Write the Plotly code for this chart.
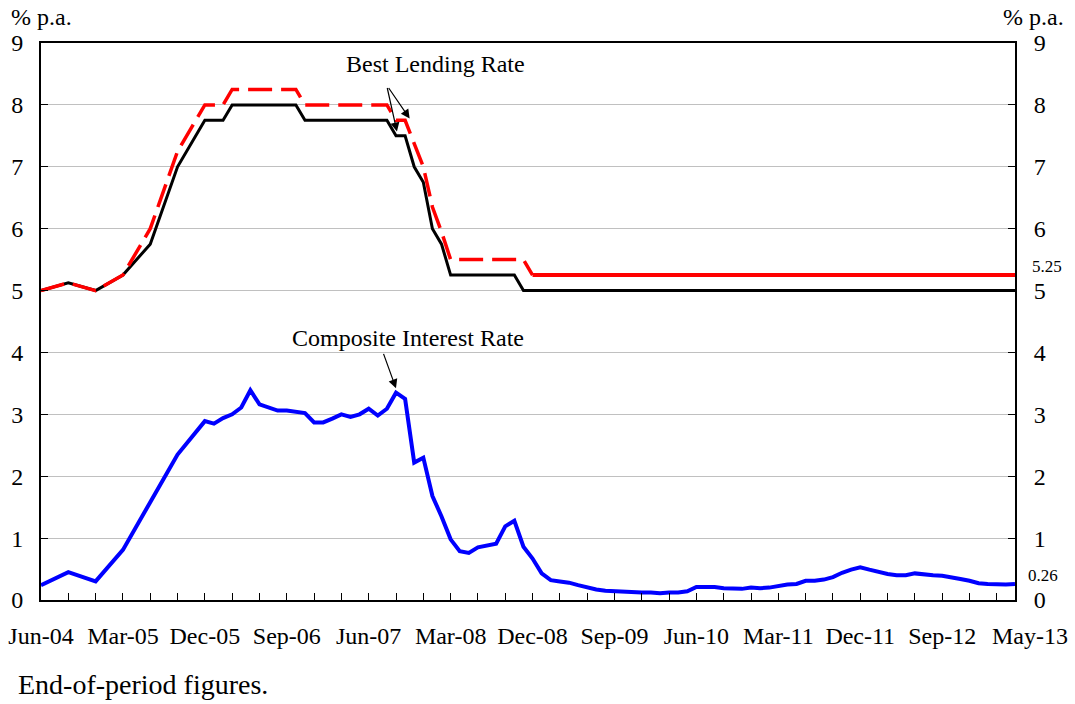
import plotly.graph_objects as go

# ---------------- data ----------------
# early observations are quarterly, monthly from Jan-2006
quarterly_periods = ["2004-06", "2004-09", "2004-12", "2005-03", "2005-06", "2005-09", "2005-12"]
monthly_periods = [f"{y}-{m:02d}" for y in range(2006, 2014) for m in range(1, 13)
                   if not (y == 2013 and m > 5)]
periods = quarterly_periods + monthly_periods

# Best Lending Rate (lower, black)
blr_low_q = [5.0, 5.125, 5.0, 5.25, 5.75, 7.0, 7.75]
blr_low_2006 = [7.75, 7.75, 8.0, 8.0, 8.0, 8.0, 8.0, 8.0, 8.0, 8.0, 7.75, 7.75]
blr_low_2007 = [7.75, 7.75, 7.75, 7.75, 7.75, 7.75, 7.75, 7.75, 7.5, 7.5, 7.0, 6.75]
blr_low_2008 = [6.0, 5.75, 5.25, 5.25, 5.25, 5.25, 5.25, 5.25, 5.25, 5.25, 5.0, 5.0]
blr_low_2009 = [5.0] * 12
blr_low_2010 = [5.0] * 12
blr_low_2011 = [5.0] * 12
blr_low_2012 = [5.0] * 12
blr_low_2013 = [5.0] * 5

# Best Lending Rate (higher, red)
blr_high_q = [5.0, 5.125, 5.0, 5.25, 6.0, 7.25, 8.0]
blr_high_2006 = [8.0, 8.0, 8.25, 8.25, 8.25, 8.25, 8.25, 8.25, 8.25, 8.25, 8.0, 8.0]
blr_high_2007 = [8.0, 8.0, 8.0, 8.0, 8.0, 8.0, 8.0, 8.0, 7.75, 7.75, 7.375, 7.0]
blr_high_2008 = [6.35, 5.95, 5.5, 5.5, 5.5, 5.5, 5.5, 5.5, 5.5, 5.5, 5.5, 5.25]
blr_high_2009 = [5.25] * 12
blr_high_2010 = [5.25] * 12
blr_high_2011 = [5.25] * 12
blr_high_2012 = [5.25] * 12
blr_high_2013 = [5.25] * 5

# Composite Interest Rate (blue)
cir_q = [0.24, 0.45, 0.30, 0.81, 1.58, 2.35, 2.89]
cir_2006 = [2.85, 2.94, 3.00, 3.11, 3.39, 3.16, 3.11, 3.06, 3.06, 3.04, 3.02, 2.87]
cir_2007 = [2.87, 2.93, 3.00, 2.96, 3.00, 3.09, 2.98, 3.09, 3.35, 3.25, 2.22, 2.30]
cir_2008 = [1.68, 1.35, 0.98, 0.79, 0.76, 0.85, 0.88, 0.91, 1.19, 1.28, 0.86, 0.67]
cir_2009 = [0.43, 0.32, 0.30, 0.28, 0.24, 0.20, 0.17, 0.15, 0.14, 0.13, 0.12, 0.12]
cir_2010 = [0.12, 0.11, 0.12, 0.12, 0.14, 0.21, 0.21, 0.21, 0.19, 0.18, 0.18, 0.20]
cir_2011 = [0.19, 0.20, 0.23, 0.25, 0.26, 0.31, 0.31, 0.33, 0.37, 0.44, 0.49, 0.53]
cir_2012 = [0.49, 0.45, 0.42, 0.40, 0.40, 0.43, 0.41, 0.40, 0.39, 0.37, 0.34, 0.31]
cir_2013 = [0.27, 0.26, 0.25, 0.25, 0.26]

blr_low = (blr_low_q + blr_low_2006 + blr_low_2007 + blr_low_2008 + blr_low_2009
           + blr_low_2010 + blr_low_2011 + blr_low_2012 + blr_low_2013)
blr_high = (blr_high_q + blr_high_2006 + blr_high_2007 + blr_high_2008 + blr_high_2009
            + blr_high_2010 + blr_high_2011 + blr_high_2012 + blr_high_2013)
cir = (cir_q + cir_2006 + cir_2007 + cir_2008 + cir_2009 + cir_2010 + cir_2011
       + cir_2012 + cir_2013)

MONTHS = ["Jan", "Feb", "Mar", "Apr", "May", "Jun", "Jul", "Aug", "Sep", "Oct", "Nov", "Dec"]


def month_index(p):
    y, m = int(p[:4]), int(p[5:7])
    return (y - 2004) * 12 + (m - 6)


def month_label(i):
    t = i + 5  # months since Jan-2004
    return f"{MONTHS[t % 12]}-{(2004 + t // 12) % 100:02d}"


x = [month_index(p) for p in periods]
last_x = x[-1]

split = periods.index("2008-12")

FONT = "Liberation Serif"

fig = go.Figure()

fig.add_trace(go.Scatter(x=x, y=blr_low, mode="lines",
                         line=dict(color="#000000", width=3),
                         showlegend=False, hoverinfo="skip"))
fig.add_trace(go.Scatter(x=x[:split + 1], y=blr_high[:split + 1], mode="lines",
                         line=dict(color="#FF0000", width=3.5, dash="24px,9px"),
                         showlegend=False, hoverinfo="skip"))
fig.add_trace(go.Scatter(x=x[split:], y=blr_high[split:], mode="lines",
                         line=dict(color="#FF0000", width=4),
                         showlegend=False, hoverinfo="skip"))
fig.add_trace(go.Scatter(x=x, y=cir, mode="lines", yaxis="y2",
                         line=dict(color="#0000FF", width=4),
                         showlegend=False, hoverinfo="skip"))

tickvals = list(range(0, last_x, 3))
ticktext = [month_label(v) if v % 9 == 0 else "" for v in tickvals]

axis_font = dict(family=FONT, size=24, color="#000000")

fig.update_layout(
    width=1075, height=704,
    margin=dict(l=41, r=60, t=43, b=104),
    paper_bgcolor="#FFFFFF", plot_bgcolor="#FFFFFF",
    font=dict(family=FONT, color="#000000"),
    xaxis=dict(range=[0, last_x], tickmode="array", tickvals=tickvals, ticktext=ticktext,
               ticks="inside", ticklen=7, tickwidth=1, tickcolor="#000000",
               showline=True, linecolor="#000000", linewidth=2, mirror=True,
               showgrid=False, zeroline=False, tickfont=axis_font,
               ticklabelstandoff=13, automargin=False),
    yaxis=dict(range=[0, 9], tickmode="array", tickvals=list(range(0, 10)),
               ticks="inside", ticklen=7, tickwidth=1, tickcolor="#000000",
               showline=True, linecolor="#000000", linewidth=2,
               showgrid=True, gridcolor="#C0C0C0", gridwidth=1, zeroline=False,
               tickfont=axis_font, ticklabelstandoff=11, automargin=False),
    yaxis2=dict(range=[0, 9], matches="y", overlaying="y", side="right",
                tickmode="array", tickvals=list(range(0, 10)),
                ticks="inside", ticklen=7, tickwidth=1, tickcolor="#000000",
                showline=True, linecolor="#000000", linewidth=2,
                showgrid=False, zeroline=False, tickfont=axis_font,
                ticklabelstandoff=12, automargin=False),
)

ann_font = dict(family=FONT, size=24, color="#000000")
small_font = dict(family=FONT, size=17, color="#000000")

annotations = [
    dict(text="% p.a.", xref="paper", yref="paper", x=0.0, y=1.047,
         xanchor="center", yanchor="middle", showarrow=False, font=ann_font),
    dict(text="% p.a.", xref="paper", yref="paper", x=1.019, y=1.047,
         xanchor="center", yanchor="middle", showarrow=False, font=ann_font),
    dict(text="Best Lending Rate", xref="x", yref="y", x=43.3, y=8.66,
         xanchor="center", yanchor="middle", showarrow=False, font=ann_font),
    dict(text="Composite Interest Rate", xref="x", yref="y", x=40.3, y=4.24,
         xanchor="center", yanchor="middle", showarrow=False, font=ann_font),
    # arrows
    dict(text="", xref="x", yref="y", x=39.1, y=7.57, ax=-10, ay=-45,
         showarrow=True, arrowhead=2, arrowsize=1.5, arrowwidth=1.2, arrowcolor="#000000"),
    dict(text="", xref="x", yref="y", x=40.5, y=7.78, ax=-22, ay=-32,
         showarrow=True, arrowhead=2, arrowsize=1.5, arrowwidth=1.2, arrowcolor="#000000"),
    dict(text="", xref="x", yref="y", x=39.0, y=3.42, ax=-13, ay=-36,
         showarrow=True, arrowhead=2, arrowsize=1.5, arrowwidth=1.2, arrowcolor="#000000"),
    # end-value labels
    dict(text=f"{blr_high[-1]:.2f}", xref="paper", yref="y", x=1.033, y=blr_high[-1],
         yshift=9, xanchor="center", yanchor="middle", showarrow=False, font=small_font),
    dict(text=f"{cir[-1]:.2f}", xref="paper", yref="y", x=1.029, y=cir[-1],
         yshift=8, xanchor="center", yanchor="middle", showarrow=False, font=small_font),
    # last x label
    dict(text=month_label(last_x), xref="x", yref="paper", x=last_x, y=0,
         xshift=15, yshift=-36, xanchor="center", yanchor="middle",
         showarrow=False, font=axis_font),
    # footnote
    dict(text="End-of-period figures.", xref="paper", yref="paper", x=-0.0257, y=-0.151,
         xanchor="left", yanchor="middle", showarrow=False,
         font=dict(family=FONT, size=28, color="#000000")),
]
fig.update_layout(annotations=annotations)

# remove the default page margin so the figure sits at the window's top-left corner
fig.write_html("out.html", config={"displayModeBar": False},
               post_script="document.body.style.margin='0';")
